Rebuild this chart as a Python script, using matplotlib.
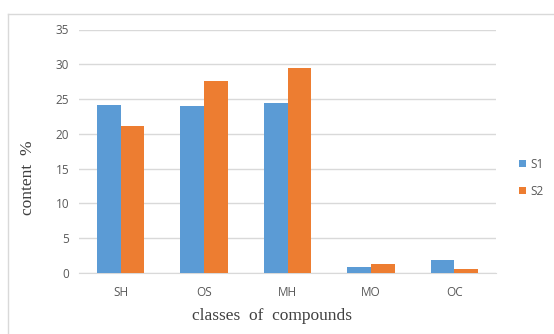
import numpy as np
import matplotlib.pyplot as plt
from matplotlib.lines import Line2D

classes = ["SH", "OS", "MH", "MO", "OC"]
s1 = [24.1, 23.95, 24.5, 0.9, 1.9]
s2 = [21.2, 27.6, 29.4, 1.25, 0.57]

fig = plt.figure(figsize=(5.54, 3.34), dpi=100)
ax = fig.add_axes([79 / 554, 1 - 273 / 334, (496 - 79) / 554, (273 - 29.5) / 334])

x = np.arange(len(classes))
w = 0.285
ax.bar(x - w / 2, s1, w, color="#5B9BD5", label="S1", zorder=3)
ax.bar(x + w / 2, s2, w, color="#ED7D31", label="S2", zorder=3)

ax.set_xlim(-0.5, len(classes) - 0.5)
ax.set_ylim(0, 35)
ax.set_yticks(range(0, 36, 5))
ax.set_xticks(x)
ax.set_xticklabels(classes)
ax.yaxis.grid(True, color="#D9D9D9", linewidth=1, zorder=0)
for s in ["top", "right", "left"]:
    ax.spines[s].set_visible(False)
ax.spines["bottom"].set_color("#D9D9D9")
ax.tick_params(length=0, labelsize=8.5, labelcolor="#595959", pad=7)
ax.tick_params(axis="x", pad=9)
for lab in ax.get_xticklabels() + ax.get_yticklabels():
    lab.set_family("Open Sans")

fig.text(272 / 554, 1 - 316 / 334, "classes  of  compounds", ha="center", va="center",
         family="Liberation Serif", fontsize=12.5, color="#404040")
fig.text(28 / 554, 1 - 178 / 334, "content  %", ha="center", va="center", rotation=90,
         family="Liberation Serif", fontsize=12.5, color="#404040")

ax.legend(loc="center left", bbox_to_anchor=(1.03, 0.39), frameon=False,
          handlelength=0.55, handleheight=0.55, handletextpad=0.4, labelspacing=1.2,
          labelcolor="#595959", prop={"family": "Open Sans", "size": 8.5})

# outer chart border (top and left edges visible)
fig.add_artist(Line2D([8 / 554, 1], [1 - 14 / 334, 1 - 14 / 334], transform=fig.transFigure,
                      color="#D9D9D9", linewidth=1))
fig.add_artist(Line2D([8 / 554, 8 / 554], [0, 1 - 14 / 334], transform=fig.transFigure,
                      color="#D9D9D9", linewidth=1))

plt.savefig("out.png", dpi=100)
